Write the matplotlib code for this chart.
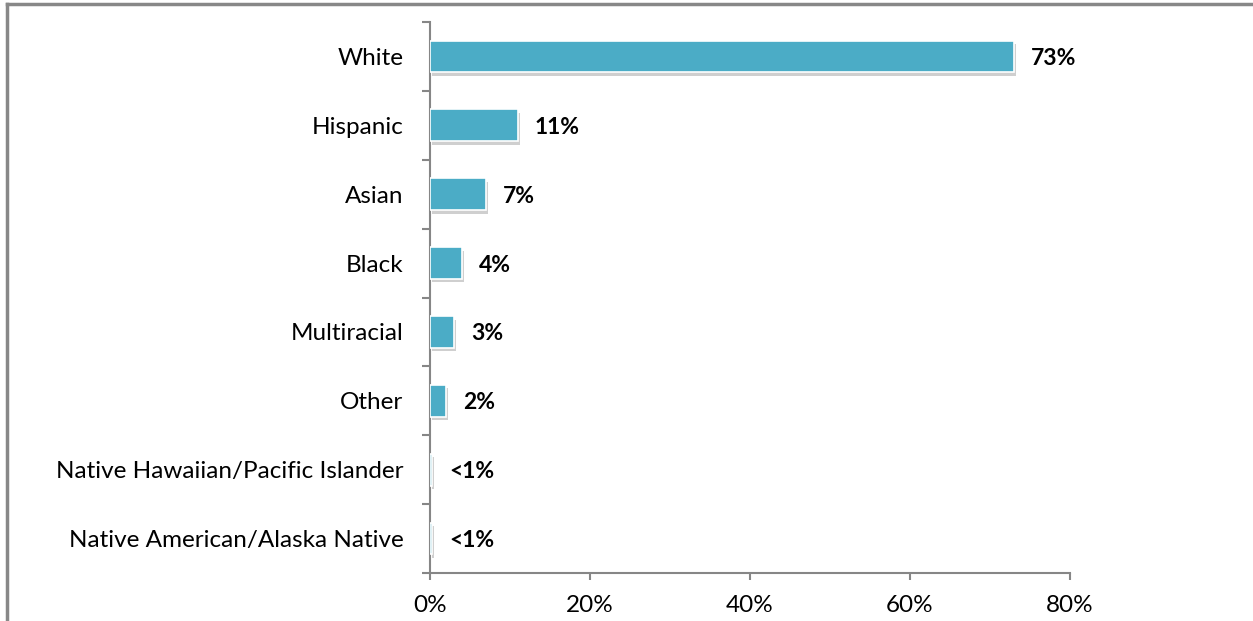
import matplotlib
matplotlib.use("Agg")
import matplotlib.pyplot as plt
from matplotlib import patheffects as pe
from matplotlib.lines import Line2D

categories = ["White", "Hispanic", "Asian", "Black", "Multiracial", "Other",
              "Native Hawaiian/Pacific Islander", "Native American/Alaska Native"]
values = [73, 11, 7, 4, 3, 2, 0.3, 0.3]
labels = ["73%", "11%", "7%", "4%", "3%", "2%", "<1%", "<1%"]
xticks = [0, 20, 40, 60, 80]
xticklabels = ["0%", "20%", "40%", "60%", "80%"]

plt.rcParams['font.family'] = ['Lato', 'DejaVu Sans']

fig = plt.figure(figsize=(12.53, 6.21), dpi=100)
ax = fig.add_axes([430/1253, (621-573)/621, 640/1253, (573-22)/621])

bar_color = "#4BACC6"
axis_color = "#868686"
pos = list(range(len(categories)))
ax.barh(pos, values, height=0.46, color=bar_color, edgecolor="white", linewidth=1.2,
        path_effects=[pe.SimplePatchShadow(offset=(1.5, -2.5), shadow_rgbFace="#a8a8a8", alpha=0.55), pe.Normal()],
        zorder=3)
for p, v, lab in zip(pos, values, labels):
    ax.annotate(lab, xy=(v, p), xytext=(17, -2), textcoords="offset pixels",
                ha="left", va="center", fontsize=16.5, fontweight="bold", color="black")

ax.set_ylim(len(categories) - 0.5, -0.5)
ax.set_xlim(0, 80)
ax.set_yticks(pos)
ax.set_yticklabels(categories, fontsize=17.5)
ax.set_yticks([i - 0.5 for i in range(len(categories) + 1)], minor=True)
ax.tick_params(axis="y", which="major", length=0, pad=19)
ax.tick_params(axis="y", which="minor", length=6, color=axis_color, width=1.5, direction="out")
ax.set_xticks(xticks)
ax.set_xticklabels(xticklabels, fontsize=17.5)
ax.tick_params(axis="x", length=5, color=axis_color, width=1.5, direction="out", pad=11)

for s in ["top", "right"]:
    ax.spines[s].set_visible(False)
for s in ["left", "bottom"]:
    ax.spines[s].set_color(axis_color)
    ax.spines[s].set_linewidth(1.5)

# figure border (top and left)
fig.add_artist(Line2D([6.5/1253, 6.5/1253], [0, 1 - 3.5/621], transform=fig.transFigure, color="#888888", lw=2.5))
fig.add_artist(Line2D([6.5/1253, 1], [1 - 3.5/621, 1 - 3.5/621], transform=fig.transFigure, color="#888888", lw=2.5))

fig.savefig("out.png", dpi=100)
